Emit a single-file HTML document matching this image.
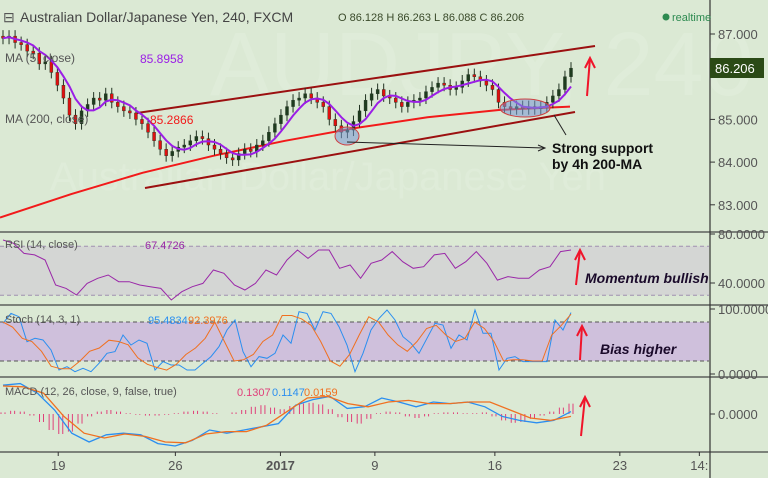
<!DOCTYPE html>
<html><head><meta charset="utf-8"><style>
html,body{margin:0;padding:0;background:#dbe9d4;}
svg{display:block;font-family:"Liberation Sans",sans-serif;}
</style></head><body>
<svg id="c" width="768" height="478" viewBox="0 0 768 478" xmlns="http://www.w3.org/2000/svg">
<rect x="0" y="0" width="768" height="478" fill="#dbe9d4"/>
<text x="210" y="95" font-size="90" fill="#dfecd9">AUDJPY, 240</text>
<text x="50" y="190" font-size="40" fill="#dfecd9">Australian Dollar/Japanese Yen</text>
<g id="main"></g>
<g id="rsi"></g>
<g id="stoch"></g>
<g id="macd"></g>
<g id="axes"></g>
<g id="legend" font-size="12"></g>
</svg>
<script>
// ---- data ----
const closes=[86.9,86.95,86.8,86.75,86.6,86.55,86.3,86.35,86.1,85.8,85.5,85.1,84.9,85.2,85.35,85.5,85.45,85.6,85.4,85.3,85.2,85.15,85.0,84.9,84.7,84.5,84.3,84.15,84.25,84.35,84.4,84.5,84.6,84.55,84.4,84.3,84.2,84.1,84.05,84.2,84.3,84.25,84.4,84.5,84.7,84.9,85.1,85.3,85.45,85.5,85.6,85.5,85.4,85.3,85.0,84.85,84.7,84.75,84.95,85.2,85.45,85.6,85.7,85.55,85.5,85.4,85.3,85.4,85.45,85.5,85.65,85.75,85.85,85.8,85.7,85.75,85.9,86.05,86.0,85.9,85.8,85.7,85.4,85.3,85.25,85.3,85.25,85.3,85.25,85.3,85.4,85.55,85.7,86.0,86.2];
const ma200=[82.7,83.25,83.75,84.15,84.5,84.8,85.05,85.22,85.3];
const rsiVals=[75.1,72.4,64.2,62.9,58.8,38.4,35.6,30.2,39.7,43.8,46.5,41.1,41.1,38.4,37.0,35.6,26.1,32.9,37.0,39.7,50.6,47.9,38.4,34.3,39.7,50.6,46.5,58.8,66.9,60.1,66.9,66.9,52.0,54.7,43.8,56.1,58.8,65.6,57.4,52.0,53.3,62.9,64.2,52.0,57.4,65.6,56.1,42.4,45.2,43.8,43.8,50.6,53.3,65.6,66.9];
const stochK=[78,93.3,88.2,49.7,54.9,52.3,36.9,6.2,11.3,3.6,8.7,3.6,16.4,31.8,34.4,60,44.6,52.3,47.2,6.2,19,13.8,13.8,6.2,6.2,16.4,26.7,42.1,67.7,83.1,34.4,11.3,26.7,24.1,31.8,60,47.2,95.9,93.3,67.7,95.9,93.3,72.8,44.6,3.6,31.8,67.7,85.6,98.5,83.1,57.4,47.2,31.8,54.9,78,75.4,39.5,60,52.3,98.5,62.6,62.6,6.2,24.1,26.7,19,19,19,19,83.1,67.7,94.4];
const stochD=[80,72,55,50,35,12,8,8,20,35,40,52,50,45,25,15,10,6,15,30,40,55,80,50,20,22,30,50,60,90,90,85,75,50,20,12,30,60,88,80,60,45,35,50,70,75,60,50,55,80,70,50,20,22,22,20,20,60,75,92];
const macdLine=[0.36,0.38,0.26,0.05,-0.24,-0.35,-0.26,-0.24,-0.26,-0.37,-0.40,-0.33,-0.20,-0.24,-0.20,-0.16,-0.12,0.11,0.18,0.22,0.07,0.09,0.20,0.15,0.09,0.15,0.13,0.15,0.09,-0.03,-0.08,-0.11,-0.08,0.03];
const signalLine=[0.35,0.34,0.26,-0.03,-0.24,-0.30,-0.25,-0.28,-0.35,-0.36,-0.25,-0.22,-0.22,-0.14,0.03,0.20,0.22,0.13,0.09,0.15,0.17,0.13,0.13,0.15,0.15,0.05,-0.05,-0.08,-0.03];
const histVals=[0.02,0.04,0.03,-0.02,-0.10,-0.20,-0.25,-0.22,-0.12,-0.03,0.03,0.05,0.03,0.01,-0.01,-0.02,-0.02,-0.01,0.01,0.03,0.04,0.03,0.01,0.00,0.02,0.05,0.09,0.11,0.08,0.06,0.10,0.13,0.14,0.12,0.06,-0.04,-0.10,-0.12,-0.06,0.01,0.03,0.02,-0.03,-0.05,-0.03,0.01,0.02,0.02,0.01,0.01,0.02,-0.03,-0.08,-0.11,-0.10,-0.06,-0.02,0.03,0.08,0.13];
const priceTicks=[87,85,84,83];
const dateLabels=["19","26","2017","9","16","23","14:"];
const dateFrac=[0.082,0.247,0.395,0.528,0.697,0.873,0.985];
// ---- scales ----
const X0=3,X1=571,AX=710;
const xs=(i,n)=>X0+i*(X1-X0)/(n-1);
const yP=p=>34+(87-p)*42.7;
const yR=v=>234+(80-v)*1.225;
const yS=v=>374-v*0.65;
const yM=v=>414-v*80;
const NS="http://www.w3.org/2000/svg";
function mk(tag,attrs,parent,name){const e=document.createElementNS(NS,tag);for(const k in attrs)e.setAttribute(k,attrs[k]);


parent.appendChild(e);return e;}
function line(vals,xf,yf,color,w,parent,name){const pts=vals.map((v,i)=>xf(i,vals.length).toFixed(1)+","+yf(v).toFixed(1)).join(" ");return mk("polyline",{points:pts,fill:"none",stroke:color,"stroke-width":w},parent,name);}
const main=document.getElementById("main"),rsi=document.getElementById("rsi"),st=document.getElementById("stoch"),mc=document.getElementById("macd"),ax=document.getElementById("axes"),lg=document.getElementById("legend");

line(ma200,(i,n)=>i*570/(n-1),yP,"#f21a1a",2,main,"ma200-line");
mk("line",{x1:137,y1:113,x2:595,y2:46,stroke:"#9b1010","stroke-width":2},main,"channel-upper");
mk("line",{x1:145,y1:188,x2:575,y2:112,stroke:"#9b1010","stroke-width":2},main,"channel-lower");
const N=closes.length;
closes.forEach((c,i)=>{const o=i?closes[i-1]:c+0.05;const x=xs(i,N);const up=c>=o;
const hi=Math.max(o,c)+0.14,lo=Math.min(o,c)-0.14;
mk("line",{x1:x,y1:yP(hi),x2:x,y2:yP(lo),stroke:"#223322","stroke-width":1},main,"candle-wick");
const t=yP(Math.max(o,c)),b=yP(Math.min(o,c));
mk("rect",{x:x-1.5,y:t,width:3,height:Math.max(1,b-t),fill:up?"#1e3b1e":"#e01010",stroke:"#223322","stroke-width":0.4},main,"candle-body");});
const ma5=closes.map((c,i)=>{let s=0,k=0;for(let j=Math.max(0,i-4);j<=i;j++){s+=closes[j];k++;}return s/k;});
line(ma5,xs,yP,"#9b1ee6",2,main,"ma5-line");
mk("ellipse",{cx:347,cy:136,rx:12,ry:9,fill:"rgba(120,150,210,0.55)",stroke:"#d04040","stroke-width":1},main,"support-ellipse-1");
mk("ellipse",{cx:525,cy:108,rx:25,ry:9,fill:"rgba(120,150,210,0.55)",stroke:"#d04040","stroke-width":1},main,"support-ellipse-2");
mk("line",{x1:347,y1:142,x2:544,y2:148,stroke:"#222","stroke-width":1},main,"annotation-arrow");
mk("path",{d:"M538,145 L545,148 L538,151",fill:"none",stroke:"#222"},main,"annotation-arrowhead");
mk("line",{x1:554,y1:115,x2:566,y2:135,stroke:"#222","stroke-width":1},main,"annotation-arrow-2");
const t1=mk("text",{x:552,y:153,"font-size":14,"font-weight":"bold",fill:"#111"},main,"support-label");t1.textContent="Strong support";
const t2=mk("text",{x:552,y:169,"font-size":14,"font-weight":"bold",fill:"#111"},main,"support-label-2");t2.textContent="by 4h 200-MA";

function arrow(x1,y1,x2,y2,name){mk("line",{x1,y1,x2,y2,stroke:"#f0142a","stroke-width":2},ax,name);
mk("path",{d:`M${x2-5},${y2+10} L${x2},${y2} L${x2+5},${y2+10}`,fill:"none",stroke:"#f0142a","stroke-width":2},ax,name+"-head");}
arrow(587,96,590,58,"bullish-arrow-main");

mk("rect",{x:0,y:yR(70),width:709,height:yR(30)-yR(70),fill:"#d4d6d4"},rsi,"rsi-band");
[70,30].forEach(v=>mk("line",{x1:0,y1:yR(v),x2:709,y2:yR(v),stroke:"#a090b0","stroke-dasharray":"4,3"},rsi,"rsi-level"));
line(rsiVals,xs,yR,"#9a28a8",1,rsi,"rsi-line");
arrow(576,285,580,250,"rsi-arrow");
const mt=mk("text",{x:585,y:283,"font-size":14,"font-weight":"bold","font-style":"italic",fill:"#1a0a2a"},rsi,"momentum-label");mt.textContent="Momentum bullish";

mk("rect",{x:0,y:yS(80),width:709,height:yS(20)-yS(80),fill:"#cfc0dc"},st,"stoch-band");
[80,20].forEach(v=>mk("line",{x1:0,y1:yS(v),x2:709,y2:yS(v),stroke:"#555","stroke-dasharray":"4,3"},st,"stoch-level"));
line(stochK,xs,yS,"#2a8ef0",1,st,"stoch-k-line");
line(stochD,xs,yS,"#f07020",1,st,"stoch-d-line");
arrow(580,360,582,326,"stoch-arrow");
const bt=mk("text",{x:600,y:354,"font-size":14,"font-weight":"bold","font-style":"italic",fill:"#1a0a2a"},st,"bias-label");bt.textContent="Bias higher";

histVals.forEach((v,i)=>{const x=xs(i,histVals.length);for(let k=-2;k<=2;k+=4){
mk("line",{x1:x+k,y1:yM(0),x2:x+k,y2:yM(v),stroke:"#e0407a","stroke-width":1},mc,"macd-hist-bar");}});
line(macdLine,xs,yM,"#2a8ef0",1.3,mc,"macd-line");
line(signalLine,xs,yM,"#f07020",1.3,mc,"macd-signal-line");
arrow(581,436,585,397,"macd-arrow");

[232,305,377,452].forEach(y=>mk("line",{x1:0,y1:y,x2:768,y2:y,stroke:"#444","stroke-width":1.2},ax,"pane-separator"));
mk("line",{x1:AX,y1:0,x2:AX,y2:478,stroke:"#333","stroke-width":1.2},ax,"price-axis-line");
function tick(y,label,name){mk("line",{x1:AX,y1:y,x2:AX+5,y2:y,stroke:"#333"},ax,name+"-tick");
const t=mk("text",{x:AX+8,y:y+5,"font-size":13,fill:"#555"},ax,name);t.textContent=label;}
priceTicks.forEach(p=>tick(yP(p),p.toFixed(3),"price-tick-label"));
tick(yR(80),"80.0000","rsi-tick-label");tick(yR(40),"40.0000","rsi-tick-label");
tick(yS(100),"100.0000","stoch-tick-label");tick(yS(0),"0.0000","stoch-tick-label");
tick(yM(0),"0.0000","macd-tick-label");
mk("rect",{x:AX,y:58,width:54,height:20,fill:"#2b4a16"},ax,"last-price-box");
const lp=mk("text",{x:AX+5,y:73,"font-size":13,fill:"#fff"},ax,"last-price-label");lp.textContent="86.206";
dateLabels.forEach((d,i)=>{const x=dateFrac[i]*AX;
mk("line",{x1:x,y1:452,x2:x,y2:456,stroke:"#333"},ax,"date-tick");
const t=mk("text",{x:x,y:470,"font-size":13,fill:"#555","text-anchor":"middle","font-weight":d==="2017"?"bold":"normal"},ax,"date-label");t.textContent=d;});

function txt(x,y,s,fill,size,name){const t=mk("text",{x,y,"font-size":size||12,fill},lg,name);t.textContent=s;return t;}
txt(3,22,"⊟","#555",14,"collapse-icon");
txt(20,22,"Australian Dollar/Japanese Yen, 240, FXCM","#444",14,"chart-title");
txt(338,21,"O 86.128  H 86.263  L 86.088  C 86.206","#3a4a2a",11,"ohlc-values");
mk("circle",{cx:666,cy:17,r:3.5,fill:"#2d8a50"},lg,"realtime-dot");
txt(672,21,"realtime","#2d8a50",11,"realtime-label");
txt(5,62,"MA (5, close)","#555",12,"ma5-legend");
txt(140,63,"85.8958","#9b1ee6",12,"ma5-value");
txt(5,123,"MA (200, close)","#555",12,"ma200-legend");
txt(150,124,"85.2866","#f21a1a",12,"ma200-value");
txt(5,248,"RSI (14, close)","#555",11,"rsi-legend");
txt(145,249,"67.4726","#9a28a8",11,"rsi-value");
txt(5,323,"Stoch (14, 3, 1)","#555",11,"stoch-legend");
txt(148,324,"95.4834","#2a8ef0",11,"stoch-k-value");
txt(188,324,"92.3976","#f07020",11,"stoch-d-value");
txt(5,395,"MACD (12, 26, close, 9, false, true)","#555",11,"macd-legend");
txt(237,396,"0.1307","#e0407a",11,"macd-hist-value");
txt(272,396,"0.1147","#2a8ef0",11,"macd-value");
txt(304,396,"0.0159","#f07020",11,"macd-signal-value");
</script>
</body></html>
